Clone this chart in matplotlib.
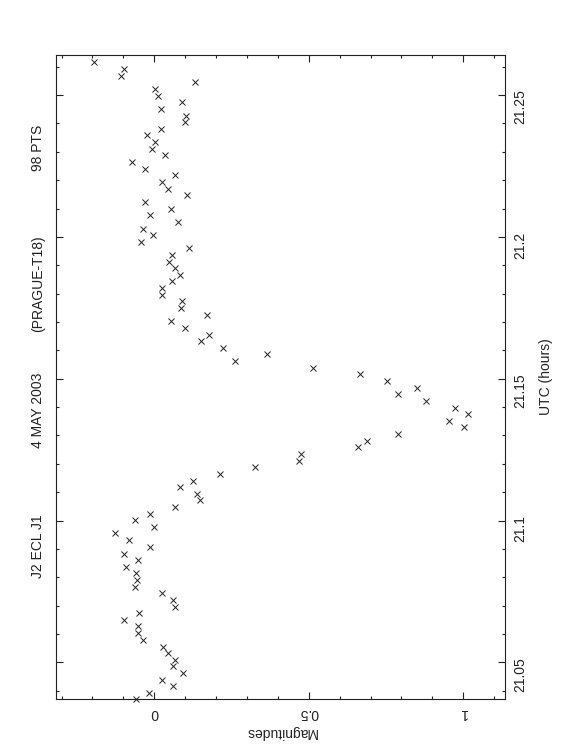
import matplotlib
matplotlib.use('Agg')
import matplotlib.pyplot as plt
from matplotlib.ticker import MultipleLocator, FixedLocator

# light curve, in time order
utc = [21.0370, 21.0393, 21.0416, 21.0439, 21.0462, 21.0486, 21.0509, 21.0533,
	21.0556, 21.0580, 21.0603, 21.0627, 21.0649, 21.0673, 21.0696, 21.0720,
	21.0744, 21.0767, 21.0790, 21.0814, 21.0837, 21.0860, 21.0883, 21.0907,
	21.0930, 21.0955, 21.0977, 21.1001, 21.1024, 21.1048, 21.1071, 21.1095,
	21.1117, 21.1140, 21.1165, 21.1189, 21.1211, 21.1235, 21.1258, 21.1281,
	21.1305, 21.1329, 21.1352, 21.1374, 21.1398, 21.1421, 21.1445, 21.1468,
	21.1492, 21.1516, 21.1539, 21.1562, 21.1586, 21.1609, 21.1633, 21.1655,
	21.1679, 21.1702, 21.1726, 21.1749, 21.1773, 21.1796, 21.1820, 21.1843,
	21.1866, 21.1889, 21.1913, 21.1936, 21.1960, 21.1983, 21.2007, 21.2029,
	21.2053, 21.2076, 21.2099, 21.2123, 21.2147, 21.2170, 21.2194, 21.2217,
	21.2240, 21.2264, 21.2288, 21.2310, 21.2334, 21.2358, 21.2380, 21.2404,
	21.2427, 21.2451, 21.2475, 21.2498, 21.2521, 21.2545, 21.2568, 21.2592,
	21.2618]
mag = [-0.058, -0.016, 0.061, 0.026, 0.093, 0.061, 0.066, 0.045,
	0.029, -0.036, -0.053, -0.052, -0.098, -0.049, 0.066, 0.061,
	0.025, -0.061, -0.056, -0.058, -0.093, -0.052, -0.098, -0.013,
	-0.081, -0.128, -0.001, -0.061, -0.014, 0.068, 0.148, 0.137,
	0.084, 0.124, 0.213, 0.326, 0.467, 0.475, 0.660, 0.687,
	0.790, 1.002, 0.955, 1.015, 0.973, 0.878, 0.788, 0.851,
	0.752, 0.665, 0.514, 0.262, 0.364, 0.223, 0.152, 0.178,
	0.099, 0.055, 0.171, 0.087, 0.091, 0.026, 0.025, 0.057,
	0.084, 0.068, 0.049, 0.057, 0.112, -0.043, -0.004, -0.036,
	0.077, -0.014, 0.055, -0.031, 0.107, 0.044, 0.024, 0.068,
	-0.031, -0.072, 0.036, -0.007, 0.002, -0.023, 0.022, 0.099,
	0.104, 0.023, 0.090, 0.013, 0.002, 0.133, -0.108, -0.098,
	-0.196]

title_parts = ['J2 ECL J1', '4 MAY 2003', '(PRAGUE-T18)', '98 PTS']
title_pos = [0.278, 0.457, 0.625, 0.805]  # figure y of each part

ink = '#222222'
plt.rcParams['font.family'] = ['Liberation Sans', 'DejaVu Sans']
plt.rcParams['font.size'] = 10

fig = plt.figure(figsize=(5.62, 7.56), dpi=100)
ax = fig.add_axes([0.0996, 0.0754, 0.7995, 0.8518])

ax.plot(mag, utc, linestyle='none', marker='x', markersize=4.2,
	markeredgewidth=0.7, color=ink, clip_on=False)

ax.set_xlim(-0.318, 1.136)
ax.set_ylim(21.0371, 21.2641)

ax.xaxis.set_major_locator(FixedLocator([0, 0.5, 1]))
ax.xaxis.set_minor_locator(MultipleLocator(0.1))
ax.set_xticklabels(['0', '0.5', '1'])
ax.yaxis.set_major_locator(FixedLocator([21.05, 21.1, 21.15, 21.2, 21.25]))
ax.yaxis.set_minor_locator(MultipleLocator(0.01))
ax.set_yticklabels(['21.05', '21.1', '21.15', '21.2', '21.25'])

ax.tick_params(which='both', direction='in', top=True, bottom=True,
	left=True, right=True, color=ink, labelcolor=ink, width=0.8)
ax.tick_params(which='major', length=5)
ax.tick_params(which='minor', length=2.2)
ax.tick_params(axis='y', labelleft=False, labelright=True,
	labelrotation=90, pad=6)
ax.tick_params(axis='x', labelrotation=180, pad=5)
for s in ax.spines.values():
	s.set_color(ink)
	s.set_linewidth(0.8)

ax.set_xlabel('Magnitudes', rotation=180, color=ink, labelpad=4)
ax.yaxis.set_label_position('right')
ax.set_ylabel('UTC (hours)', rotation=90, color=ink, labelpad=8)

for txt, yy in zip(title_parts, title_pos):
	fig.text(0.068, yy, txt, rotation=90, ha='center', va='center', color=ink)

plt.savefig('out.png', dpi=100)
plt.close()
